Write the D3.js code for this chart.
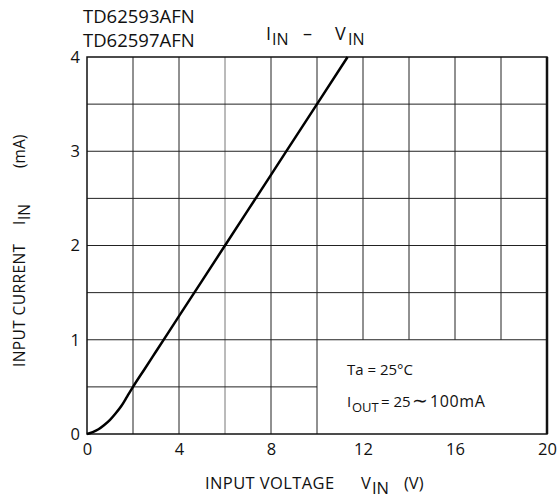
<!DOCTYPE html>
<html>
<head>
<meta charset="utf-8">
<script src="https://cdn.jsdelivr.net/npm/d3@7"></script>
<style>
  body { margin: 0; background: #fff; }
  text { font-family: "Open Sans", "DejaVu Sans", sans-serif; fill: #111; }
</style>
</head>
<body>
<div id="chart"></div>
<script>
// curve
const vin = [0, 0.25, 0.5, 0.75, 1, 1.25, 1.5, 1.75, 2, 2.5, 3, 4, 6, 8, 10, 11.33];
const iin = [0, 0.02, 0.05, 0.095, 0.15, 0.22, 0.3, 0.4, 0.5, 0.6875, 0.875, 1.25, 2, 2.75, 3.5, 4];

const xTicks = [0, 4, 8, 12, 16, 20];
const yTicks = [0, 1, 2, 3, 4];

const width = 558, height = 501;
const margin = {left: 87, right: 11, top: 57, bottom: 67};

const svg = d3.select("#chart").append("svg")
    .attr("width", width)
    .attr("height", height);

const x = d3.scaleLinear().domain([0, 20]).range([margin.left, width - margin.right]);
const y = d3.scaleLinear().domain([0, 4]).range([height - margin.bottom, margin.top]);

const grid = svg.append("g").attr("stroke", "#222").attr("stroke-width", 1);

// vertical grid every 2 V; right of 10 V they stop at 1 mA (annotation box)
d3.range(2, 20, 2).forEach(v => {
    grid.append("line")
        .attr("x1", x(v)).attr("x2", x(v))
        .attr("y1", y(4)).attr("y2", v > 10 ? y(1) : y(0))
        .attr("stroke", v === 6 ? "#777" : "#222");
});

// horizontal grid every 0.5 mA; the 0.5 mA one stops at 10 V
d3.range(0.5, 4, 0.5).forEach(i => {
    grid.append("line")
        .attr("x1", x(0)).attr("x2", i === 0.5 ? x(10) : x(20))
        .attr("y1", y(i)).attr("y2", y(i));
});

// frame
svg.append("rect")
    .attr("x", x(0)).attr("y", y(4))
    .attr("width", x(20) - x(0)).attr("height", y(0) - y(4))
    .attr("fill", "none").attr("stroke", "#111").attr("stroke-width", 1.5);
svg.append("line")
    .attr("x1", x(20)).attr("x2", x(20)).attr("y1", y(4)).attr("y2", y(0))
    .attr("stroke", "#111").attr("stroke-width", 2.5);

// axes (labels only)
const xAxis = svg.append("g")
    .attr("transform", `translate(0,${y(0)})`)
    .call(d3.axisBottom(x).tickValues(xTicks).tickSize(0).tickPadding(9).tickFormat(d3.format("d")));
xAxis.select(".domain").remove();
xAxis.selectAll("text").style("font-size", "16.5px").attr("fill", "#111");

const yAxis = svg.append("g")
    .attr("transform", `translate(${x(0)},0)`)
    .call(d3.axisLeft(y).tickValues(yTicks).tickSize(0).tickPadding(7).tickFormat(d3.format("d")));
yAxis.select(".domain").remove();
yAxis.selectAll("text").style("font-size", "16.5px").attr("fill", "#111");

// curve
const pts = vin.map((v, k) => [v, iin[k]]);
svg.append("path")
    .datum(pts)
    .attr("fill", "none")
    .attr("stroke", "#000")
    .attr("stroke-width", 2.5)
    .attr("d", d3.line().x(d => x(d[0])).y(d => y(d[1])).curve(d3.curveMonotoneX));

// titles
svg.append("text").attr("x", 83).attr("y", 23).style("font-size", "18.5px").text("TD62593AFN");
svg.append("text").attr("x", 83).attr("y", 47).style("font-size", "18.5px").text("TD62597AFN");

const t = svg.append("text").attr("y", 40).style("font-size", "18px");
t.append("tspan").attr("x", 266).text("I");
t.append("tspan").attr("x", 272).attr("dy", 5).style("font-size", "16px").text("IN");
t.append("tspan").attr("x", 303).attr("dy", -5).text("–");
t.append("tspan").attr("x", 335).text("V");
t.append("tspan").attr("x", 348).attr("dy", 5).style("font-size", "16px").text("IN");

// annotation
svg.append("text").attr("x", 347).attr("y", 375).style("font-size", "15px").text("Ta = 25°C");
const a = svg.append("text").attr("y", 407).style("font-size", "15px");
a.append("tspan").attr("x", 347).text("I");
a.append("tspan").attr("x", 352).attr("dy", 5).style("font-size", "13px").text("OUT");
a.append("tspan").attr("x", 381).attr("dy", -5).text("= 25");
a.append("tspan").attr("x", 412).style("font-size", "19px").text("∼");
a.append("tspan").attr("x", 430).style("font-size", "16px").style("letter-spacing", "0.6px").text("100mA");

// x label
const xl = svg.append("text").attr("y", 489).style("font-size", "16.5px");
xl.append("tspan").attr("x", 205).style("letter-spacing", "0.4px").text("INPUT VOLTAGE");
xl.append("tspan").attr("x", 361).text("V");
xl.append("tspan").attr("x", 372).attr("dy", 5).text("IN");
xl.append("tspan").attr("x", 404).attr("dy", -5).text("(V)");

// y label
const yl = svg.append("text")
    .attr("transform", "translate(25,367) rotate(-90)")
    .style("font-size", "15.5px");
yl.append("tspan").attr("x", 0).style("letter-spacing", "0.4px").text("INPUT CURRENT");
yl.append("tspan").attr("x", 142).text("I");
yl.append("tspan").attr("x", 147).attr("dy", 5).text("IN");
yl.append("tspan").attr("x", 199).attr("dy", -5).text("(mA)");
</script>
</body>
</html>
